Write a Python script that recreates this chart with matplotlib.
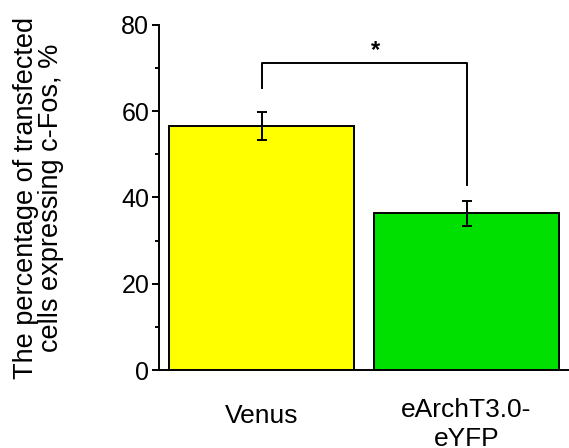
#!/usr/bin/env python
import matplotlib
matplotlib.use('Agg')
import matplotlib.pyplot as plt
import matplotlib.transforms as mtransforms
import numpy as np

groups = ['Venus', 'eArchT3.0-\neYFP']
means = [56.6, 36.4]
errors = [3.2, 2.9]
colors = ['#ffff00', '#00e000']

plt.rcParams['font.family'] = ['Liberation Sans', 'DejaVu Sans']

fig = plt.figure(figsize=(5.69, 4.48), dpi=100)
ax = fig.add_axes([159 / 569, 78 / 448, 410 / 569, 345 / 448])

lw = 1.4
x = np.arange(len(groups))
ax.bar(x, means, width=0.9, color=colors, edgecolor='black', linewidth=lw)
ax.errorbar(x, means, yerr=errors, fmt='none', ecolor='black',
            elinewidth=lw, capsize=3.5, capthick=lw)

# significance bracket
top = 71.2
ax.plot([0, 0, 1, 1], [65.4, top, top, 42.9], color='black', lw=lw)
ax.text(0.556, top + 0.2, '*', ha='center', va='bottom', fontsize=17,
        fontweight='bold')

ax.set_xlim(-0.5, 1.5)
ax.set_ylim(0, 80)
ax.set_yticks([0, 20, 40, 60, 80])
ax.set_yticks([10, 30, 50, 70], minor=True)
ax.set_xticks(x)
ax.set_xticklabels(groups, linespacing=1.3)
ax.tick_params(axis='x', length=0, pad=20, labelsize=19)
ax.tick_params(axis='y', which='major', length=5, width=lw, labelsize=18, pad=2)
ax.tick_params(axis='y', which='minor', length=3, width=lw)

# "Venus" sits a little lower than the two-line label
lab = ax.get_xticklabels()[0]
lab.set_transform(lab.get_transform() +
                  mtransforms.ScaledTranslation(0, -6 / 100, fig.dpi_scale_trans))

for s in ['top', 'right']:
    ax.spines[s].set_visible(False)
for s in ['left', 'bottom']:
    ax.spines[s].set_linewidth(lw)

ax.set_ylabel('The percentage of transfected\ncells expressing c-Fos, %',
              fontsize=19.5, labelpad=41, linespacing=0.95)

fig.savefig('out.png', dpi=100)
